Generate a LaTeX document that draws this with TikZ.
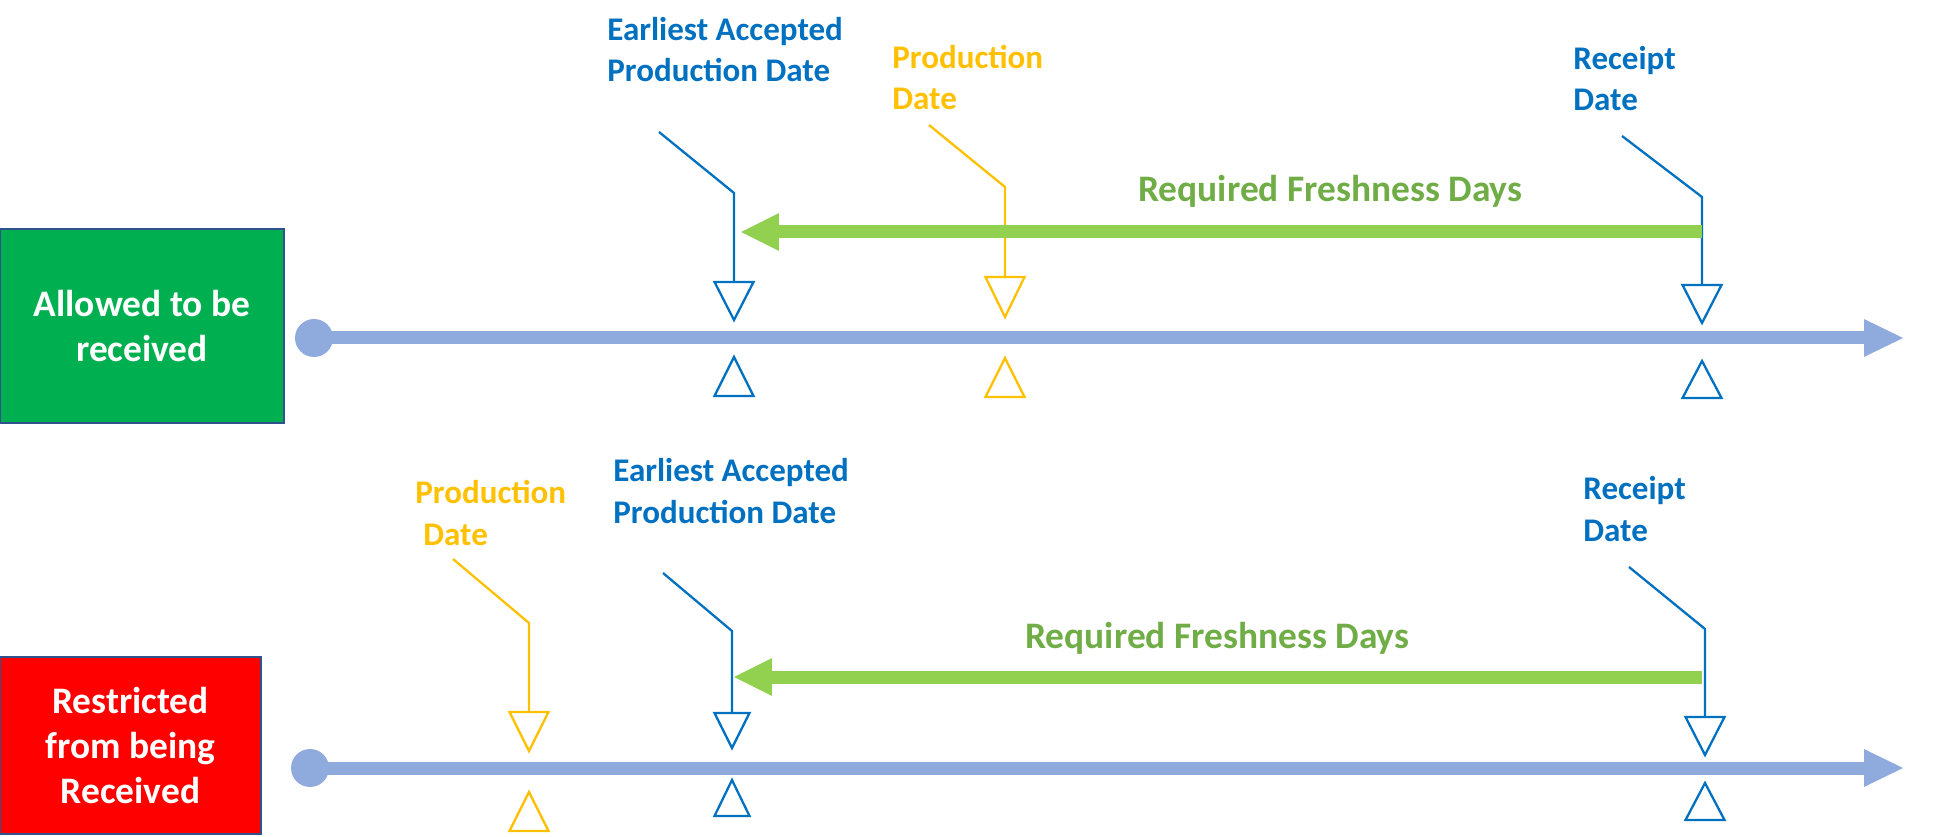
\documentclass[tikz,border=0pt]{standalone}
\usepackage{fontspec}
\setmainfont{Carlito}
\usetikzlibrary{arrows.meta,positioning}
\definecolor{axisblue}{HTML}{8FAADC}
\definecolor{dateblue}{HTML}{0070C0}
\definecolor{dateorange}{HTML}{FFC000}
\definecolor{spangreen}{HTML}{92D050}
\definecolor{textgreen}{HTML}{70AD47}
\definecolor{okgreen}{HTML}{00B050}
\definecolor{edgeblue}{HTML}{2F528F}

\begin{document}
\begin{tikzpicture}[x=0.02cm,y=-0.02cm,
  statusbox/.style={draw=edgeblue,line width=0.9pt,text=white,align=center,inner sep=0pt,
    font=\fontsize{21.3}{25.5}\selectfont\bfseries},
  datelbl/.style={anchor=base west,align=left,inner sep=0pt,
    font=\fontsize{18.8}{23.6}\selectfont\bfseries},
  freshlbl/.style={anchor=base west,inner sep=0pt,text=textgreen,
    font=\fontsize{21.3}{25}\selectfont\bfseries},
  axis/.style={axisblue,line width=7.4pt,-{Triangle[length=22.1pt,width=21.5pt,line width=0pt]}},
  dot/.style={circle,fill=axisblue,inner sep=0pt,minimum size=0.76cm},
  span/.style={spangreen,line width=7.4pt,-{Triangle[length=21.5pt,width=21.5pt,line width=0pt]}},
  leader/.style={line width=1.3pt},
  tri/.style={line width=1.3pt,line join=miter}]
\useasboundingbox (0,0) rectangle (1943,837);

% row A: allowed
\node[statusbox,fill=okgreen,minimum width=5.68cm,minimum height=3.88cm] (boxA) at (142,326) {Allowed to be\\received};
\node[dot] (dotA) at (314,338) {};
\coordinate (endA) at (1903,338);
\draw[axis] (dotA.center) -- (endA);

% labels sit on the baseline of their last line
\node[datelbl,text=dateblue] (eapA) at (607,82) {Earliest Accepted\\Production Date};
\node[datelbl,text=dateorange] (pdA) at (892,110) {Production\\Date};
\node[datelbl,text=dateblue] (rdA) at (1573,111) {Receipt\\Date};

\coordinate (eapAs) at (659,132); \coordinate (eapAk) at (734,193); \coordinate (eapAt) at (734,282);
\coordinate (pdAs) at (929,125);  \coordinate (pdAk) at (1005,187); \coordinate (pdAt) at (1005,277);
\coordinate (rdAs) at (1622,136); \coordinate (rdAk) at (1702,197); \coordinate (rdAt) at (1702,285);
\draw[leader,dateblue] (eapAs) -- (eapAk) -- (eapAt);
\draw[leader,dateorange] (pdAs) -- (pdAk) -- (pdAt);
\draw[leader,dateblue] (rdAs) -- (rdAk) -- (rdAt);
\draw[tri,dateblue] (eapAt) ++(-19.5,0) -- ++(39,0) -- ++(-19.5,38) -- cycle;
\draw[tri,dateorange] (pdAt) ++(-19.5,0) -- ++(39,0) -- ++(-19.5,40) -- cycle;
\draw[tri,dateblue] (rdAt) ++(-19.5,0) -- ++(39,0) -- ++(-19.5,38) -- cycle;
\draw[tri,dateblue] (734,357) -- ++(19.5,39) -- ++(-39,0) -- cycle;
\draw[tri,dateorange] (1005,358) -- ++(19.5,39) -- ++(-39,0) -- cycle;
\draw[tri,dateblue] (1702,361) -- ++(19.5,37) -- ++(-39,0) -- cycle;

\coordinate (spanAr) at (1702,232); \coordinate (spanAl) at (741,232);
\draw[span] (spanAr) -- (spanAl);
\node[freshlbl] (freshA) at (1138,202) {Required Freshness Days};

% row B: restricted
\node[statusbox,fill=red,minimum width=5.22cm,minimum height=3.54cm] (boxB) at (130.5,745.5) {Restricted\\from being\\Received};
\node[dot] (dotB) at (310,768) {};
\coordinate (endB) at (1903,768);
\draw[axis] (dotB.center) -- (endB);

\node[datelbl,text=dateorange] (pdB) at (415,545) {Production\\\hspace*{0.16cm}Date};
\node[datelbl,text=dateblue] (eapB) at (613,523) {Earliest Accepted\\Production Date};
\node[datelbl,text=dateblue] (rdB) at (1583,541) {Receipt\\Date};

\coordinate (pdBs) at (453,559);  \coordinate (pdBk) at (529,623);  \coordinate (pdBt) at (529,712);
\coordinate (eapBs) at (663,573); \coordinate (eapBk) at (732,631); \coordinate (eapBt) at (732,713);
\coordinate (rdBs) at (1629,567); \coordinate (rdBk) at (1705,629); \coordinate (rdBt) at (1705,717);
\draw[leader,dateorange] (pdBs) -- (pdBk) -- (pdBt);
\draw[leader,dateblue] (eapBs) -- (eapBk) -- (eapBt);
\draw[leader,dateblue] (rdBs) -- (rdBk) -- (rdBt);
\draw[tri,dateorange] (pdBt) ++(-19.5,0) -- ++(39,0) -- ++(-19.5,39) -- cycle;
\draw[tri,dateblue] (eapBt) ++(-17.5,0) -- ++(35,0) -- ++(-17.5,35) -- cycle;
\draw[tri,dateblue] (rdBt) ++(-19.5,0) -- ++(39,0) -- ++(-19.5,38) -- cycle;
\draw[tri,dateorange] (529,792) -- ++(19.5,39) -- ++(-39,0) -- cycle;
\draw[tri,dateblue] (732,780) -- ++(17.5,36) -- ++(-35,0) -- cycle;
\draw[tri,dateblue] (1705,783) -- ++(19.5,37) -- ++(-39,0) -- cycle;

\coordinate (spanBr) at (1702,677); \coordinate (spanBl) at (734,677);
\draw[span] (spanBr) -- (spanBl);
\node[freshlbl] (freshB) at (1025,648) {Required Freshness Days};
\end{tikzpicture}
\end{document}
